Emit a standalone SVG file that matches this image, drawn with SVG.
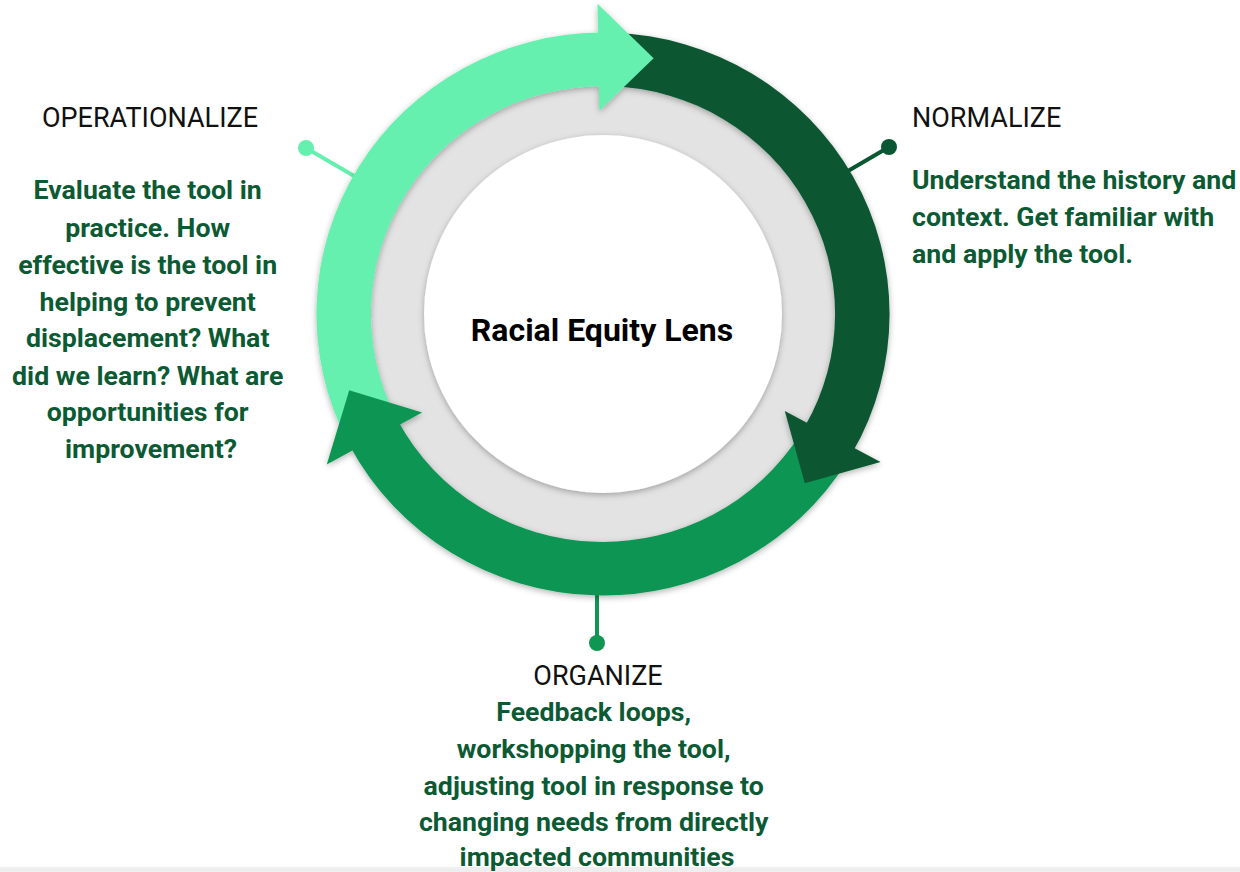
<svg xmlns="http://www.w3.org/2000/svg" width="1240" height="872" viewBox="0 0 1240 872">
  <defs>
    <filter id="sh" x="-20%" y="-20%" width="140%" height="140%">
      <feDropShadow dx="0" dy="2" stdDeviation="3" flood-color="#000" flood-opacity="0.3"/>
    </filter>
  </defs>
  <style>
    .hdr { font-family: Roboto, "Liberation Sans", sans-serif; font-size: 27px; fill: #111; }
    .body { font-family: Roboto, "Liberation Sans", sans-serif; font-size: 26.7px; font-weight: bold; fill: #0B5A33; }
    .center { font-family: Roboto, "Liberation Sans", sans-serif; font-size: 32px; font-weight: bold; fill: #000; }
    .light { fill: #66F0AF; }
    .dark { fill: #0A5733; }
    .mid { fill: #109553; }
  </style>
  <rect x="0" y="0" width="1240" height="872" fill="#fff"/>
  <rect x="0" y="867" width="1240" height="5" fill="#EEEEEE"/>

  <g id="connectors">
    <line x1="306" y1="148" x2="368" y2="184" stroke="#66F0AF" stroke-width="4"/>
    <circle cx="306" cy="148" r="8" class="light"/>
    <line x1="889" y1="147" x2="836" y2="178" stroke="#0A5733" stroke-width="4"/>
    <circle cx="889" cy="147" r="8" class="dark"/>
    <line x1="597" y1="585" x2="597" y2="643" stroke="#109553" stroke-width="4"/>
    <circle cx="597" cy="643" r="8" class="mid"/>
  </g>

  <g id="hub">
    <circle cx="603" cy="314" r="233" fill="#E3E3E3" filter="url(#sh)"/>
    <circle cx="603" cy="314" r="179" fill="#fff" filter="url(#sh)"/>
    <text class="center" x="602" y="341" text-anchor="middle">Racial Equity Lens</text>
  </g>

  <g id="cycle" transform="translate(603 314) scale(1.009 0.991)">
    <g filter="url(#sh)">
      <path id="shaft-operationalize" class="light" d="M -253.05 128.93 A 284 284 0 0 1 0 -284 L 0 -230 A 230 230 0 0 0 -204.93 104.42 Z"/>
      <path id="shaft-normalize" class="dark" d="M 9.91 -283.83 A 284 284 0 0 1 247.18 139.85 L 200.18 113.26 A 230 230 0 0 0 8.03 -229.86 Z"/>
      <path id="shaft-organize" class="mid" d="M 242.15 148.39 A 284 284 0 0 1 -250.76 133.33 L -203.08 107.98 A 230 230 0 0 0 196.11 120.18 Z"/>
      <polygon id="head-operationalize" class="light" points="-3.58,-204.97 -5.46,-312.95 50.18,-258.17"/>
      <polygon id="head-normalize" class="dark" points="180.16,97.82 275.07,149.35 199.99,170.81"/>
      <polygon id="head-organize" class="mid" points="-179.30,99.39 -273.76,151.75 -251.51,76.89"/>
    </g>
  </g>

  <g id="node-operationalize">
    <text class="hdr" x="150" y="127" text-anchor="middle">OPERATIONALIZE</text>
    <text class="body" text-anchor="middle">
      <tspan x="151" y="199">Evaluate the tool in</tspan>
      <tspan x="151" y="237">practice. How</tspan>
      <tspan x="151" y="274">effective is the tool in</tspan>
      <tspan x="151" y="311">helping to prevent</tspan>
      <tspan x="151" y="347">displacement? What</tspan>
      <tspan x="151" y="385">did we learn? What are</tspan>
      <tspan x="151" y="421">opportunities for</tspan>
      <tspan x="151" y="458">improvement?</tspan>
    </text>
  </g>

  <g id="node-normalize">
    <text class="hdr" x="912" y="127">NORMALIZE</text>
    <text class="body">
      <tspan x="912" y="189">Understand the history and</tspan>
      <tspan x="912" y="226">context. Get familiar with</tspan>
      <tspan x="912" y="263">and apply the tool.</tspan>
    </text>
  </g>

  <g id="node-organize">
    <text class="hdr" x="598" y="685" text-anchor="middle">ORGANIZE</text>
    <text class="body" text-anchor="middle">
      <tspan x="597" y="721">Feedback loops,</tspan>
      <tspan x="597" y="758">workshopping the tool,</tspan>
      <tspan x="597" y="795">adjusting tool in response to</tspan>
      <tspan x="597" y="831">changing needs from directly</tspan>
      <tspan x="597" y="866">impacted communities</tspan>
    </text>
  </g>
</svg>
